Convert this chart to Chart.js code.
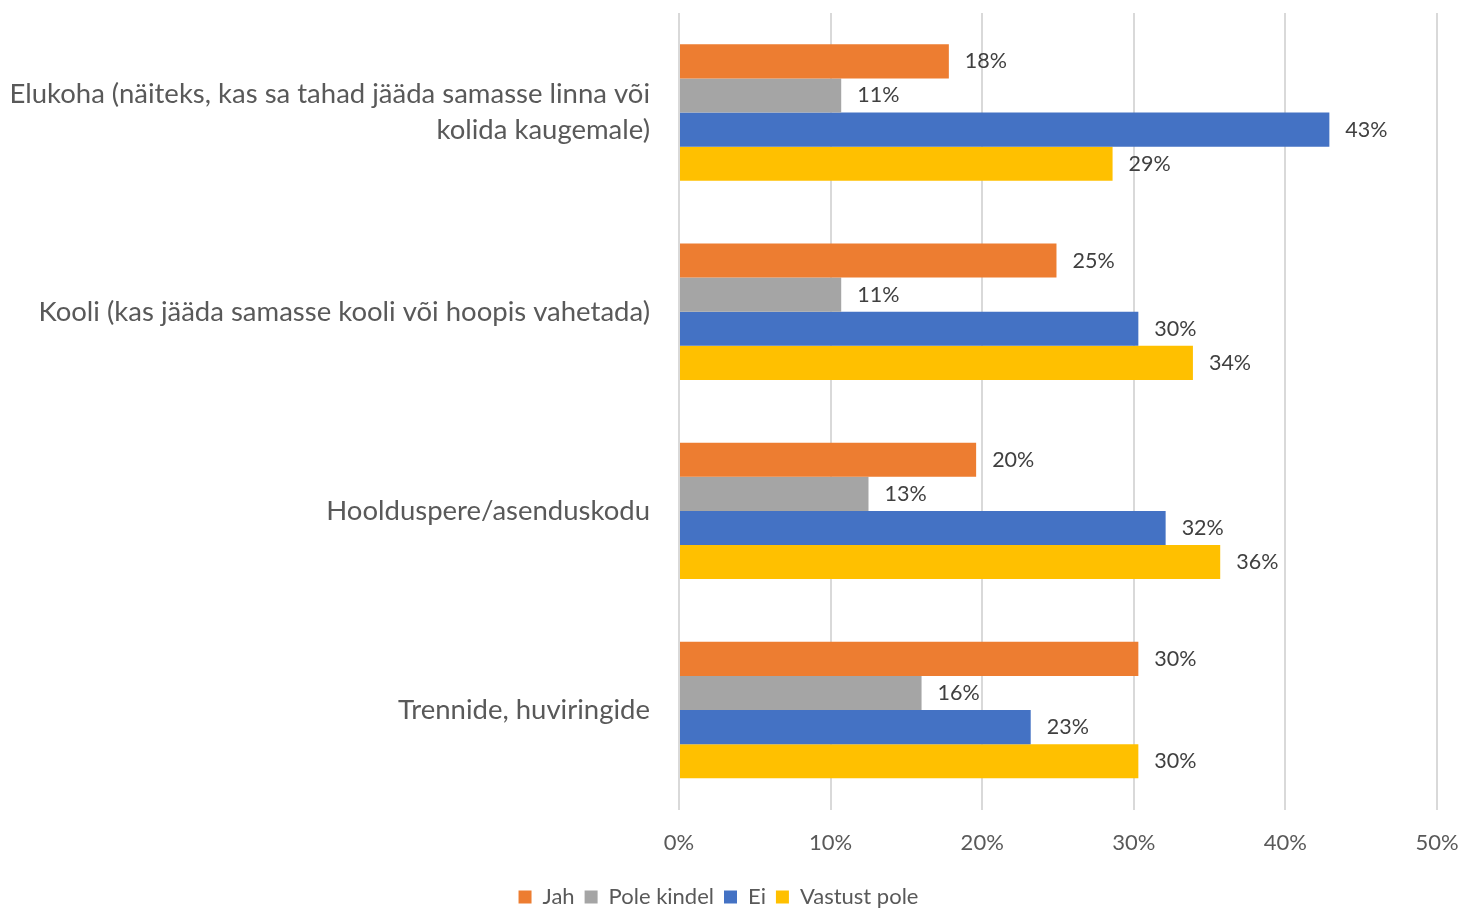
<!DOCTYPE html>
<html>
<head>
<meta charset="utf-8">
<script src="https://cdn.jsdelivr.net/npm/chart.js@4"></script>
<style>
  html, body { margin: 0; padding: 0; background: #fff; }
  #wrap { width: 1461px; height: 908px; position: relative; }
</style>
</head>
<body>
<div id="wrap"><canvas id="my-chart"></canvas></div>
<script>
// kategooriad (y-telg)
const categories = [
  ["Elukoha (näiteks, kas sa tahad jääda samasse linna või", "kolida kaugemale)"],
  "Kooli (kas jääda samasse kooli või hoopis vahetada)",
  "Hoolduspere/asenduskodu",
  "Trennide, huviringide"
];

// väärtused protsentides
const jah = [17.8, 24.9, 19.6, 30.3];
const poleKindel = [10.7, 10.7, 12.5, 16.0];
const ei = [42.9, 30.3, 32.1, 23.2];
const vastustPole = [28.6, 33.9, 35.7, 30.3];

const xTicks = [0, 10, 20, 30, 40, 50];

const FONT = "Lato, 'Open Sans', sans-serif";

// silt iga tulba otsa
const barLabels = {
  id: "barLabels",
  afterDatasetsDraw(chart) {
    const ctx = chart.ctx;
    ctx.save();
    ctx.font = "21.5px " + FONT;
    ctx.fillStyle = "#404040";
    ctx.textAlign = "left";
    ctx.textBaseline = "middle";
    chart.data.datasets.forEach((ds, i) => {
      const meta = chart.getDatasetMeta(i);
      meta.data.forEach((bar, j) => {
        ctx.fillText(Math.round(ds.data[j]) + "%", bar.x + 16, bar.y);
      });
    });
    ctx.restore();
  }
};

const ctx = document.getElementById("my-chart").getContext("2d");
const chart = new Chart(ctx, {
  type: "bar",
  data: {
    labels: categories,
    datasets: [
      { label: "Jah", data: jah, backgroundColor: "#ED7D31" },
      { label: "Pole kindel", data: poleKindel, backgroundColor: "#A5A5A5" },
      { label: "Ei", data: ei, backgroundColor: "#4472C4" },
      { label: "Vastust pole", data: vastustPole, backgroundColor: "#FFC000" }
    ]
  },
  options: {
    indexAxis: "y",
    responsive: true,
    maintainAspectRatio: false,
    animation: false,
    categoryPercentage: 0.685,
    barPercentage: 1,
    layout: { padding: { top: 13, right: 24, left: 0, bottom: -10 } },
    scales: {
      x: {
        min: 0,
        max: 50,
        afterBuildTicks: (scale) => {
          scale.ticks = xTicks.map((v) => ({ value: v }));
        },
        afterFit: (scale) => { scale.paddingRight = 0; scale.paddingLeft = 0; },
        grid: { color: "#D9D9D9", lineWidth: 2, drawTicks: false },
        border: { display: false },
        ticks: {
          padding: 20,
          color: "#595959",
          font: { family: FONT, size: 22 },
          callback: (v) => v + "%"
        }
      },
      y: {
        grid: { display: false, drawTicks: false },
        border: { display: false },
        afterFit: (scale) => {
          scale.width = 679;
          scale.paddingTop = 0;
          scale.paddingBottom = 0;
        },
        ticks: {
          padding: 29,
          color: "#595959",
          font: { family: FONT, size: 27.5, lineHeight: 1.31 }
        }
      }
    },
    plugins: {
      tooltip: { enabled: false },
      legend: {
        position: "bottom",
        labels: {
          boxWidth: 13,
          boxHeight: 13,
          padding: 10,
          color: "#595959",
          font: { family: FONT, size: 22 }
        }
      }
    }
  },
  plugins: [barLabels]
});
</script>
</body>
</html>
